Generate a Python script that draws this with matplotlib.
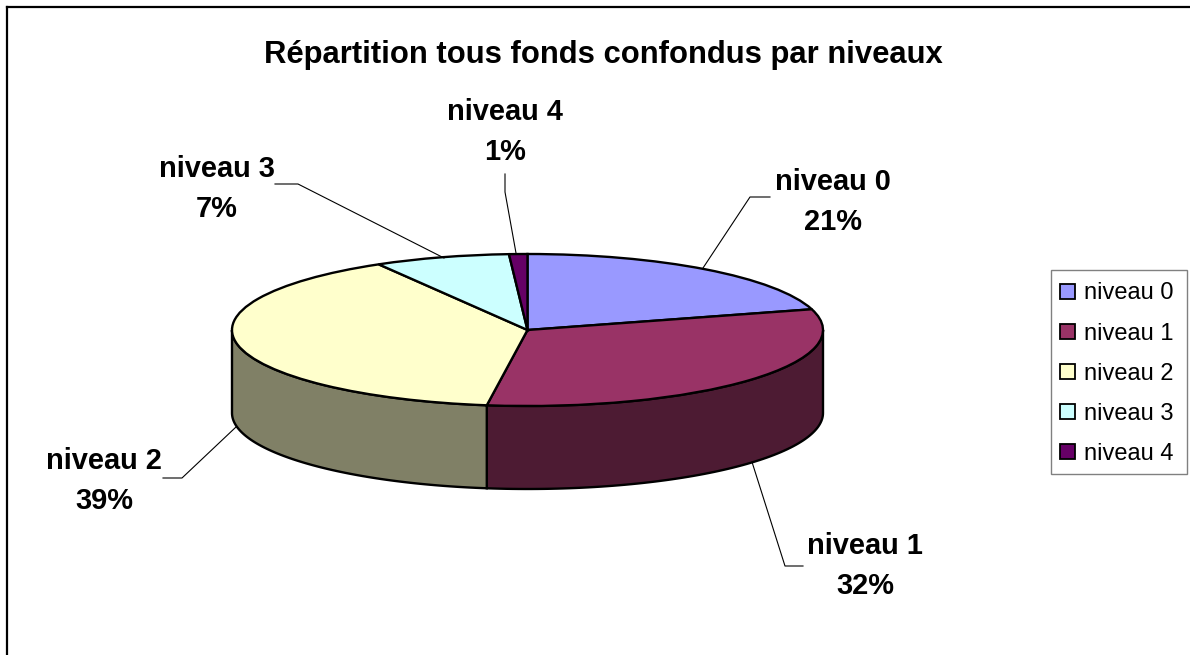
import numpy as np
import matplotlib
matplotlib.use("Agg")
import matplotlib.pyplot as plt
from matplotlib.patches import Patch, Rectangle

plt.rcParams["font.family"] = ["Liberation Sans", "DejaVu Sans"]

# Data
names = ["niveau 0", "niveau 1", "niveau 2", "niveau 3", "niveau 4"]
values = [20.6, 31.6, 39.4, 7.4, 1.0]
colors = ["#9999FF", "#993366", "#FFFFCC", "#CCFFFF", "#660066"]
side_colors = ["#4C4C80", "#4D1B33", "#808066", "#668080", "#330033"]
title = "Répartition tous fonds confondus par niveaux"

W, H = 1190, 655
CX, CY, RX, RY, DEPTH = 527.5, 330, 295.5, 76, 83

fig = plt.figure(figsize=(W / 100, H / 100), dpi=100, facecolor="white")

# Pie top is a normal pie squashed by its axes, unit radius
ax = fig.add_axes([(CX - RX) / W, 1 - (CY + RY) / H, 2 * RX / W, 2 * RY / H])
wedges, _ = ax.pie(values, colors=colors, startangle=90, counterclock=False, radius=1,
                   wedgeprops={"edgecolor": "black", "linewidth": 1.7, "zorder": 3})
for w in wedges:
    w.set_clip_on(False)
ax.set_aspect("auto")
ax.set_xlim(-1, 1)
ax.set_ylim(-1, 1)

# Side wall, only the front half of the pie shows
drop = 2 * DEPTH / (2 * RY)
ends = 90 - 360 * np.cumsum(values) / sum(values)
starts = np.r_[90, ends[:-1]]
for a1, a2, c in zip(starts, ends, side_colors):
    a1, a2 = min(a1, 0), max(a2, -180)
    if a1 <= a2:
        continue
    t = np.radians(np.linspace(a1, a2, 80))
    x = np.r_[np.cos(t), np.cos(t[::-1])]
    y = np.r_[np.sin(t), np.sin(t[::-1]) - drop]
    ax.fill(x, y, facecolor=c, edgecolor="black", linewidth=1.7, zorder=2, clip_on=False)

# Overlay in pixel units for frame, texts and leader lines
ov = fig.add_axes([0, 0, 1, 1], facecolor="none")
ov.set_xlim(0, W)
ov.set_ylim(H, 0)
ov.axis("off")

ov.plot([7, 7], [655, 7], color="black", lw=1.6)
ov.plot([7, 1190], [7, 7], color="black", lw=1.6)

ov.text(603, 55, title, ha="center", va="center", fontsize=22.3, fontweight="bold")

label_pos = [(833, 202), (865, 566), (104, 481), (217, 189), (505, 132)]
leaders = [
    ([703, 750, 770], [268, 197, 197]),
    ([752, 785, 803], [462, 566, 566]),
    ([236, 182, 163], [427, 478, 478]),
    ([444, 298, 275], [258, 184, 184]),
    ([516, 505, 505], [253, 192, 174]),
]
for name, v, (lx, ly) in zip(names, values, label_pos):
    ov.text(lx, ly, f"{name}\n{round(v)}%", ha="center", va="center",
            fontsize=20.9, fontweight="bold", linespacing=1.53)
for xs, ys in leaders:
    ov.plot(xs, ys, color="black", lw=0.8)

# Legend box is wider than the entries, so it is drawn on its own
ov.add_patch(Rectangle((1051, 270), 136, 204, facecolor="white", edgecolor="#808080", linewidth=1.0))
handles = [Patch(facecolor=c, edgecolor="black", linewidth=1.3) for c in colors]
leg = ov.legend(handles, names, loc="upper left", bbox_to_anchor=(1051 / W, 1 - 273 / H),
                bbox_transform=fig.transFigure, fontsize=17, frameon=False,
                handlelength=0.6, handleheight=0.6, handletextpad=0.38,
                labelspacing=0.77, borderpad=0.4, borderaxespad=0)

plt.savefig("out.png", dpi=100)
plt.close()
